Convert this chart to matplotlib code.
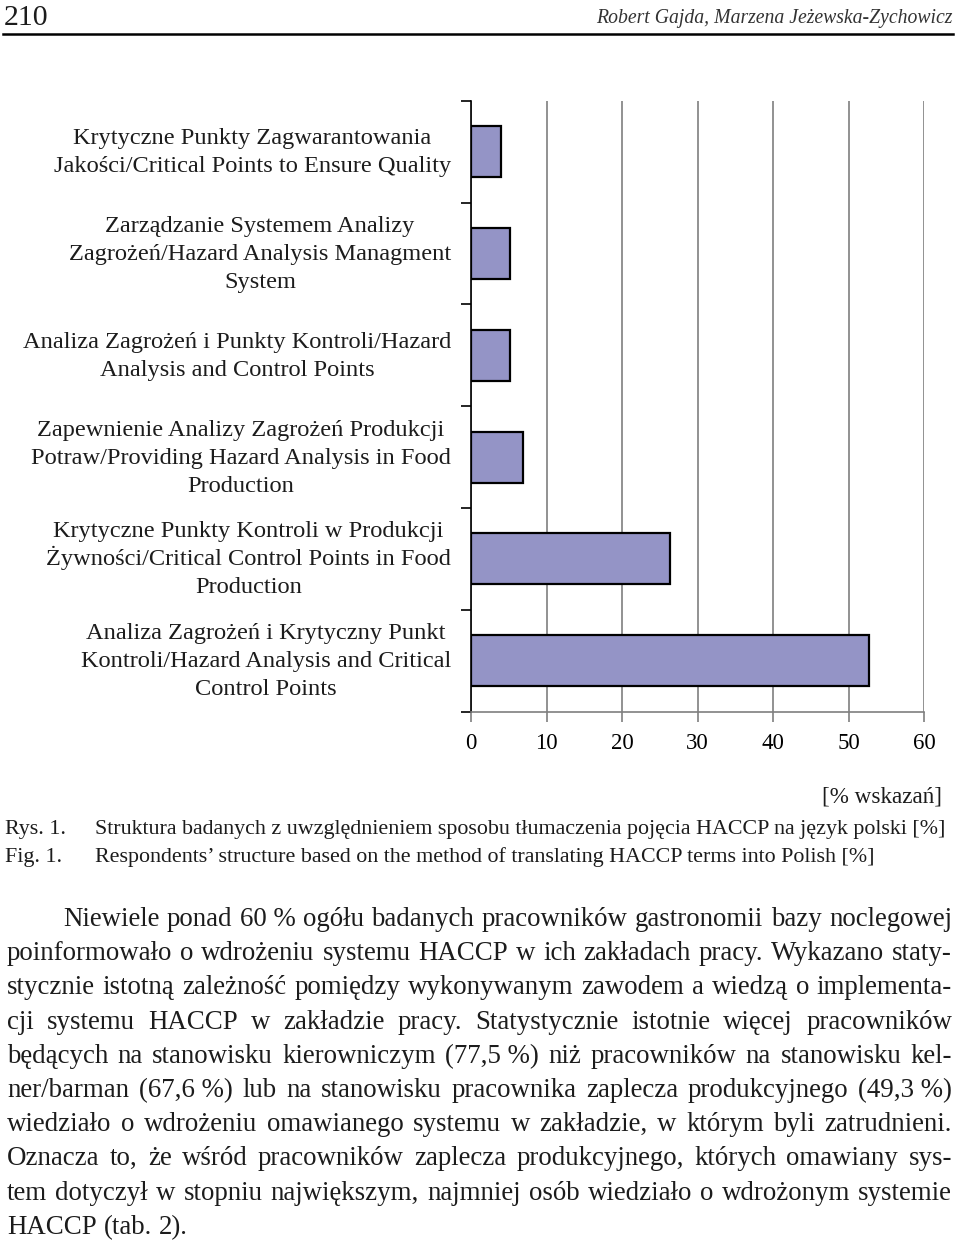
import matplotlib
matplotlib.use("Agg")
import matplotlib.pyplot as plt
import numpy as np

# ---------------- data ----------------
categories = [
    "Krytyczne Punkty Zagwarantowania\nJakości/Critical Points to Ensure Quality",
    "Zarządzanie Systemem Analizy\nZagrożeń/Hazard Analysis Managment\nSystem",
    "Analiza Zagrożeń i Punkty Kontroli/Hazard\nAnalysis and Control Points",
    "Zapewnienie Analizy Zagrożeń Produkcji\nPotraw/Providing Hazard Analysis in Food\nProduction",
    "Krytyczne Punkty Kontroli w Produkcji\nŻywności/Critical Control Points in Food\nProduction",
    "Analiza Zagrożeń i Krytyczny Punkt\nKontroli/Hazard Analysis and Critical\nControl Points",
]
values = [3.9, 5.1, 5.1, 6.9, 26.3, 52.7]
x_ticks = [0, 10, 20, 30, 40, 50, 60]
x_unit = "[% wskazań]"

page_number = "210"
authors = "Robert Gajda, Marzena Jeżewska-Zychowicz"
caption_pl_tag = "Rys. 1."
caption_pl = "Struktura badanych z uwzględnieniem sposobu tłumaczenia pojęcia HACCP na język polski [%]"
caption_en_tag = "Fig. 1."
caption_en = "Respondents’ structure based on the method of translating HACCP terms into Polish [%]"

body_lines = [
    "Niewiele ponad 60\u00a0% ogółu badanych pracowników gastronomii bazy noclegowej",
    "poinformowało o wdrożeniu systemu HACCP w ich zakładach pracy. Wykazano staty-",
    "stycznie istotną zależność pomiędzy wykonywanym zawodem a wiedzą o implementa-",
    "cji systemu HACCP w zakładzie pracy. Statystycznie istotnie więcej pracowników",
    "będących na stanowisku kierowniczym (77,5\u00a0%) niż pracowników na stanowisku kel-",
    "ner/barman (67,6\u00a0%) lub na stanowisku pracownika zaplecza produkcyjnego (49,3\u00a0%)",
    "wiedziało o wdrożeniu omawianego systemu w zakładzie, w którym byli zatrudnieni.",
    "Oznacza to, że wśród pracowników zaplecza produkcyjnego, których omawiany sys-",
    "tem dotyczył w stopniu największym, najmniej osób wiedziało o wdrożonym systemie",
    "HACCP (tab. 2).",
]

# ---------------- page setup ----------------
plt.rcParams["font.family"] = ["Liberation Serif", "DejaVu Serif"]
W, H = 960, 1242
fig = plt.figure(figsize=(W / 100, H / 100), dpi=100)
fig.patch.set_facecolor("white")
renderer = fig.canvas.get_renderer()
TXT = "#1c1c1c"


def fx(x):
    return x / W


def fy(y):
    return 1 - y / H


def width_px(s, size, **kw):
    t = fig.text(0, 0, s, fontsize=size, **kw)
    w = t.get_window_extent(renderer).width
    t.remove()
    return w


def fit(s, target, **kw):
    return 10 * target / width_px(s, 10, **kw)


# ---------------- chart ----------------
ax_left, ax_right, ax_top, ax_bottom = 471.3, 924.0, 100.7, 711.7
ax = fig.add_axes([fx(ax_left), fy(ax_bottom), fx(ax_right) - fx(ax_left),
                   fy(ax_top) - fy(ax_bottom)])
ypos = np.arange(len(categories))
ax.barh(ypos, values, height=0.5, color="#9494C6", edgecolor="black",
        linewidth=1.6, zorder=3)
ax.set_xlim(0, 60)
ax.set_ylim(len(categories) - 0.5, -0.5)
ax.set_xticks(x_ticks)
ax.set_xticklabels([str(v) for v in x_ticks])
ax.xaxis.grid(True, color="#7f7f7f", linewidth=1.2, zorder=0)
ax.set_axisbelow(True)
for s in ("top", "right"):
    ax.spines[s].set_visible(False)
ax.spines["left"].set_color("black")
ax.spines["left"].set_linewidth(1.2)
ax.spines["bottom"].set_color("#7f7f7f")
ax.spines["bottom"].set_linewidth(1.2)

ax.set_yticks(ypos)
ax.set_yticklabels([""] * len(categories))
ax.set_yticks(np.arange(-0.5, len(categories)), minor=True)
ax.tick_params(axis="y", which="major", length=0)
ax.tick_params(axis="y", which="minor", length=7, width=1.2, color="black")
ax.tick_params(axis="x", which="major", length=7, width=1.2, color="#7f7f7f",
               labelsize=16.5, pad=8, labelcolor="black")

# category labels: block right-aligned, lines centred, even line pitch
label_size = fit("Analiza Zagrożeń i Punkty Kontroli/Hazard", 429)
label_right, line_pitch = 451, 28.0
slot = (ax_bottom - ax_top) / len(categories)
for i, cat in enumerate(categories):
    lines = cat.split("\n")
    block_w = max(width_px(l, label_size) for l in lines)
    cx = label_right - block_w / 2
    yc = ax_top + slot * (i + 0.5)
    n = len(lines)
    for k, l in enumerate(lines):
        ly = yc + (k - (n - 1) / 2) * line_pitch + 6.5
        fig.text(fx(cx), fy(ly), l, fontsize=label_size, color=TXT,
                 ha="center", va="baseline")

# ---------------- header ----------------
fig.text(fx(4), fy(25), page_number, fontsize=fit(page_number, 45), color=TXT,
         ha="left", va="baseline")
fig.text(fx(952), fy(23), authors, fontsize=fit(authors, 356, style="italic"),
         style="italic", color="#333333", ha="right", va="baseline")
fig.add_artist(plt.Line2D([fx(3), fx(953)], [fy(34), fy(34)], color="black",
                          linewidth=1.8, transform=fig.transFigure))

# ---------------- caption ----------------
cap_size = fit(caption_pl, 855)
fig.text(fx(942), fy(803), x_unit, fontsize=cap_size * 1.05, color=TXT,
         ha="right", va="baseline")
fig.text(fx(5), fy(834), caption_pl_tag, fontsize=cap_size, color=TXT, va="baseline")
fig.text(fx(95), fy(834), caption_pl, fontsize=cap_size, color=TXT, va="baseline")
fig.text(fx(5), fy(862), caption_en_tag, fontsize=cap_size, color=TXT, va="baseline")
fig.text(fx(95), fy(862), caption_en, fontsize=cap_size, color=TXT, va="baseline")

# ---------------- body text (justified) ----------------
left, right, indent = 7, 952, 63
starts = [indent] + [left] * (len(body_lines) - 1)
ratios = []
for i, line in enumerate(body_lines[:-1]):
    ratios.append((right - starts[i]) / width_px(line, 10))
body_size = 10 * min(ratios) * 0.995
space_w = width_px("a b", body_size) - width_px("ab", body_size)
baseline0, step = 926, 34.2
for i, line in enumerate(body_lines):
    words = line.split(" ")
    widths = [width_px(w, body_size) for w in words]
    y = baseline0 + i * step
    if i < len(body_lines) - 1 and len(words) > 1:
        gap = (right - starts[i] - sum(widths)) / (len(words) - 1)
    else:
        gap = space_w
    x = starts[i]
    for w, ww in zip(words, widths):
        fig.text(fx(x), fy(y), w, fontsize=body_size, color=TXT,
                 ha="left", va="baseline")
        x += ww + gap

fig.savefig("out.png", dpi=100, facecolor="white")
